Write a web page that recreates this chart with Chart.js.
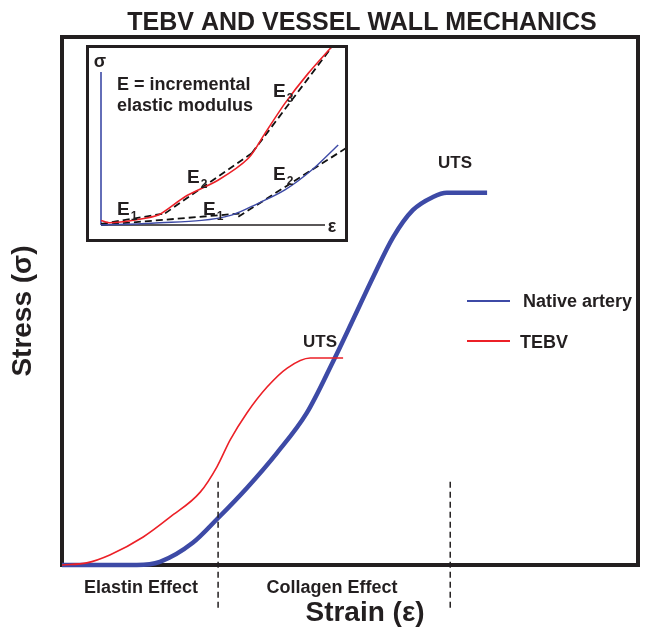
<!DOCTYPE html>
<html>
<head>
<meta charset="utf-8">
<script src="https://cdn.jsdelivr.net/npm/chart.js@4.4.0/dist/chart.umd.min.js"></script>
<style>
    html, body { margin: 0; padding: 0; background: #fff; }
    #wrap { position: relative; width: 647px; height: 643px; }
    #main { position: absolute; left: 0; top: 0; }
    #insetBox { position: absolute; left: 86px; top: 45px; width: 256px; height: 191px; border: 3px solid #231f20; background: #fff; }
    #inset { display: block; }
</style>
</head>
<body>
<div id="wrap">
    <canvas id="main" width="647" height="643"></canvas>
    <div id="insetBox"><canvas id="inset" width="256" height="191"></canvas></div>
</div>
<script>
// main curves (strain / stress, arbitrary units 0-100)
const nativeStrain = [0, 13.0, 17.0, 22.7, 27.1, 32.1, 37.3, 42.5, 47.0, 50.5, 54.0, 57.5, 60.9, 64.4, 66.8, 73.8];
const nativeStress = [0, 0, 0.6, 4.2, 8.9, 14.6, 21.2, 28.8, 38.4, 46.4, 54.5, 62.1, 67.2, 69.7, 70.5, 70.5];
const tebvStrain = [0, 4.3, 8.3, 14.1, 18.8, 24.0, 26.9, 29.2, 32.1, 35.6, 39.1, 43.1, 48.8];
const tebvStress = [0, 0.4, 1.9, 5.3, 9.1, 13.8, 18.6, 23.7, 28.8, 33.7, 37.3, 39.2, 39.2];
const regionBounds = [27.1, 67.4];
const regionLineSpan = [-8.1, 16.1];

// inset curves
const insetNativeStrain = [0, 22.6, 58.3, 70.2, 82.1, 94.1, 105.9];
const insetNativeStress = [0, 1.1, 6.5, 14.2, 22.9, 35.9, 52.3];
const insetTebvStrain = [0, 4, 15.2, 25.6, 37.5, 52.4, 65.8, 73.2, 82.1, 92.5, 103.7];
const insetTebvStress = [3, 1.5, 3.3, 6.5, 18.5, 29.4, 43.6, 59.9, 79.5, 99.1, 117.6];
// tangent segments: [x1, y1, x2, y2]
const insetTangents = [
    [0, 0.7, 28.6, 7.6],
    [28.6, 7.6, 67.3, 46.9],
    [67.3, 46.9, 103.7, 117.6],
    [0, 0, 62.8, 7.6],
    [61.3, 5.4, 110.4, 51.2]
];

const BLUE = '#3d4aa6';
const RED = '#ec2027';
const INK = '#231f20';
const FONT = '"Liberation Sans", Arial, sans-serif';

const pts = (xs, ys) => xs.map((x, i) => ({ x, y: ys[i] }));

function drawLabels(ctx, items) {
    ctx.save();
    ctx.fillStyle = INK;
    ctx.textBaseline = 'alphabetic';
    items.forEach(it => {
        ctx.save();
        ctx.translate(it.x, it.y);
        if (it.rot) ctx.rotate(it.rot);
        ctx.font = 'bold ' + it.size + 'px ' + FONT;
        ctx.textAlign = it.align || 'left';
        ctx.fillText(it.text, 0, 0);
        if (it.sub) {
            const w = ctx.measureText(it.text).width;
            ctx.font = 'bold ' + Math.round(it.size * 0.62) + 'px ' + FONT;
            ctx.textAlign = 'left';
            ctx.fillText(it.sub, w + 1, it.size * 0.28);
        }
        ctx.restore();
    });
    ctx.restore();
}

const mainLabels = [
    { text: 'TEBV AND VESSEL WALL MECHANICS', x: 362, y: 30, size: 25, align: 'center' },
    { text: 'UTS', x: 455, y: 168, size: 17, align: 'center' },
    { text: 'UTS', x: 320, y: 347, size: 17, align: 'center' },
    { text: 'Native artery', x: 523, y: 307, size: 18 },
    { text: 'TEBV', x: 520, y: 348, size: 18 },
    { text: 'Elastin Effect', x: 141, y: 593, size: 18, align: 'center' },
    { text: 'Collagen Effect', x: 332, y: 593, size: 18, align: 'center' },
    { text: 'Strain (\u03b5)', x: 365, y: 621, size: 28, align: 'center' },
    { text: 'Stress (\u03c3)', x: 31, y: 311, size: 28, align: 'center', rot: -Math.PI / 2 }
];

const insetLabels = [
    { text: '\u03c3', x: 11, y: 19, size: 18, align: 'center' },
    { text: '\u03b5', x: 243, y: 184, size: 18, align: 'center' },
    { text: 'E = incremental', x: 28, y: 42, size: 18 },
    { text: 'elastic modulus', x: 28, y: 63, size: 18 },
    { text: 'E', sub: '1', x: 28, y: 167, size: 19 },
    { text: 'E', sub: '2', x: 98, y: 135, size: 19 },
    { text: 'E', sub: '3', x: 184, y: 49, size: 19 },
    { text: 'E', sub: '1', x: 114, y: 167, size: 19 },
    { text: 'E', sub: '2', x: 184, y: 132, size: 19 }
];

const framePlugin = {
    id: 'frame',
    beforeDatasetsDraw(chart) {
        const { ctx, chartArea: a } = chart;
        ctx.save();
        ctx.strokeStyle = INK;
        ctx.lineWidth = 4;
        ctx.strokeRect(a.left, a.top, a.right - a.left, a.bottom - a.top);
        ctx.restore();
    },
    afterDraw(chart) {
        const ctx = chart.ctx;
        ctx.save();
        ctx.lineWidth = 2;
        ctx.strokeStyle = BLUE;
        ctx.beginPath(); ctx.moveTo(467, 301); ctx.lineTo(510, 301); ctx.stroke();
        ctx.strokeStyle = RED;
        ctx.beginPath(); ctx.moveTo(467, 341); ctx.lineTo(510, 341); ctx.stroke();
        ctx.restore();
        drawLabels(ctx, mainLabels);
    }
};

const insetPlugin = {
    id: 'insetAxes',
    beforeDatasetsDraw(chart) {
        const { ctx, chartArea: a } = chart;
        ctx.save();
        ctx.lineWidth = 1.6;
        ctx.strokeStyle = INK;
        ctx.beginPath(); ctx.moveTo(a.left, a.bottom); ctx.lineTo(a.right, a.bottom); ctx.stroke();
        ctx.strokeStyle = BLUE;
        ctx.beginPath(); ctx.moveTo(a.left, a.bottom); ctx.lineTo(a.left, a.top); ctx.stroke();
        ctx.restore();
    },
    afterDraw(chart) {
        drawLabels(chart.ctx, insetLabels);
    }
};

const hiddenScales = (min, max) => ({
    x: { type: 'linear', min: 0, max: 100, display: false },
    y: { type: 'linear', min: min, max: max, display: false }
});

new Chart(document.getElementById('main'), {
    type: 'line',
    data: {
        datasets: [
            ...regionBounds.map(b => ({
                data: pts([b, b], regionLineSpan),
                borderColor: INK, borderWidth: 1.5, borderDash: [6, 4],
                pointRadius: 0, clip: false
            })),
            {
                label: 'TEBV',
                data: pts(tebvStrain, tebvStress),
                borderColor: RED, borderWidth: 1.6,
                cubicInterpolationMode: 'monotone', pointRadius: 0, clip: false
            },
            {
                label: 'Native artery',
                data: pts(nativeStrain, nativeStress),
                borderColor: BLUE, borderWidth: 4.5,
                cubicInterpolationMode: 'monotone', pointRadius: 0, clip: false
            }
        ]
    },
    options: {
        responsive: false,
        animation: false,
        layout: { padding: { left: 62, top: 37, right: 9, bottom: 78 } },
        scales: hiddenScales(0, 100),
        plugins: { legend: { display: false }, tooltip: { enabled: false } }
    },
    plugins: [framePlugin]
});

new Chart(document.getElementById('inset'), {
    type: 'line',
    data: {
        datasets: [
            {
                data: pts(insetNativeStrain, insetNativeStress),
                borderColor: BLUE, borderWidth: 1.4,
                cubicInterpolationMode: 'monotone', pointRadius: 0, clip: false
            },
            {
                data: pts(insetTebvStrain, insetTebvStress),
                borderColor: RED, borderWidth: 1.6,
                tension: 0.25, pointRadius: 0, clip: false
            },
            ...insetTangents.map(s => ({
                data: [{ x: s[0], y: s[1] }, { x: s[2], y: s[3] }],
                borderColor: '#111', borderWidth: 1.8, borderDash: [7, 4],
                pointRadius: 0, clip: false
            }))
        ]
    },
    options: {
        responsive: false,
        animation: false,
        layout: { padding: { left: 12, top: 24, right: 20, bottom: 14 } },
        scales: hiddenScales(0, 100),
        plugins: { legend: { display: false }, tooltip: { enabled: false } }
    },
    plugins: [insetPlugin]
});
</script>
</body>
</html>
